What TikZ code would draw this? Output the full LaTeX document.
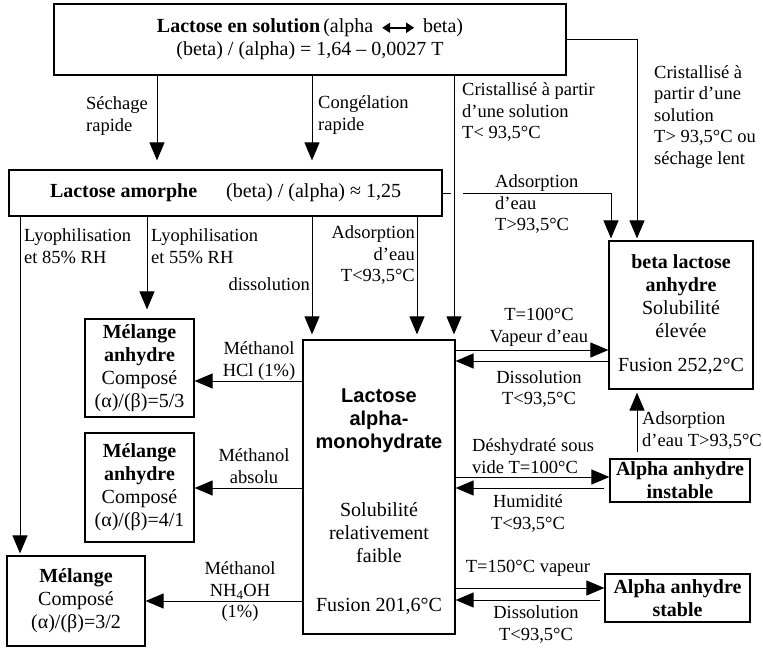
\documentclass[tikz,border=0pt]{standalone}
\usepackage{fontspec}
\setmainfont{Liberation Serif}
\newfontfamily\sansbf{Liberation Sans}
\usetikzlibrary{arrows.meta}
\newcommand\boxfont{\fontsize{20}{23}\selectfont}
\newcommand\labfont{\fontsize{18.5}{21.5}\selectfont}
\newcommand\msans[1]{{\sansbf\bfseries #1}}
\newcommand\dblarr{\tikz[baseline=-0.55ex]\draw[line width=1.8pt,{Triangle[width=10pt,length=8pt]}-{Triangle[width=10pt,length=8pt]}] (0pt,0pt) -- (32pt,0pt);}
\begin{document}
\begin{tikzpicture}[x=1pt,y=-1pt,
  box/.style={draw,line width=1.2pt,inner sep=0pt,align=center,font=\boxfont},
  txt/.style={inner sep=0pt,align=center,font=\boxfont},
  lab/.style={inner sep=0pt,font=\labfont},
  arr/.style={line width=1pt,-{Triangle[width=15pt,length=18pt]}},
  ln/.style={line width=1pt}]
\useasboundingbox (0,0) rectangle (763,649);

% boxes
\node[box,minimum width=512pt,minimum height=71pt] (T) at (310,39.5)
  {\textbf{Lactose en solution}\hspace{3pt}(alpha\hspace{8pt}\dblarr\hspace{8pt}beta)\\(beta) / (alpha) = 1,64 – 0,0027 T};
\node[box,minimum width=433pt,minimum height=46pt] (A) at (225.5,193)
  {\textbf{Lactose amorphe}\hspace{29pt}(beta) / (alpha) ≈ 1,25};
\node[box,minimum width=109pt,minimum height=98pt] (M1) at (139.5,368)
  {\textbf{Mélange}\\\textbf{anhydre}\\Composé\\(α)/(β)=5/3};
\node[box,minimum width=109pt,minimum height=109pt] (M2) at (139.5,487.5)
  {\textbf{Mélange}\\\textbf{anhydre}\\Composé\\(α)/(β)=4/1};
\node[box,minimum width=138pt,minimum height=90pt] (M3) at (76,601)
  {\textbf{Mélange}\\Composé\\(α)/(β)=3/2};
\node[box,minimum width=152pt,minimum height=294pt] (mono) at (379,487) {};
\node[txt] (monoT) at (379,501.5)
  {\msans{Lactose}\\\msans{alpha-}\\\msans{monohydrate}\\[45pt]Solubilité\\relativement\\faible\\[26pt]Fusion 201,6°C};
\node[box,minimum width=144pt,minimum height=148pt] (B) at (681,315)
  {\textbf{beta lactose}\\\textbf{anhydre}\\Solubilité\\élevée\\[11pt]Fusion 252,2°C};
\node[box,minimum width=140pt,minimum height=43pt] (AI) at (680,480.5)
  {\textbf{Alpha anhydre}\\\textbf{instable}};
\node[box,minimum width=145pt,minimum height=48pt] (AS) at (677.5,598)
  {\textbf{Alpha anhydre}\\\textbf{stable}};

% helper coordinates
\coordinate (xS) at (157,0);
\coordinate (xC) at (312,0);
\coordinate (xK) at (454,0);
\coordinate (xR) at (637,0);
\coordinate (xL1) at (20,0);
\coordinate (xL2) at (147,0);
\coordinate (xAd) at (417,0);
\coordinate (xH) at (611,0);
\coordinate (yHCl) at (0,381);
\coordinate (yAbs) at (0,488);
\coordinate (yNH) at (0,601);
\coordinate (yV) at (0,350);
\coordinate (yDi) at (0,361);
\coordinate (yDe) at (0,477);
\coordinate (yHu) at (0,488);
\coordinate (yT) at (0,588);
\coordinate (yDs) at (0,600);

% connectors
\draw[arr,shorten >=9pt] (T.south -| xS) -- (A.north -| xS);
\draw[arr,shorten >=9pt] (T.south -| xC) -- (A.north -| xC);
\draw[arr,shorten >=5pt] (T.south -| xK) -- (mono.north -| xK);
\draw[arr,shorten >=2pt] (T.east) -| (B.north -| xR);
\draw[ln] (A.east) -- ([xshift=-3pt]A.east -| xK);
\draw[arr,shorten >=2pt] ([xshift=9pt]A.east -| xK) -| (B.north -| xH);
\draw[arr,shorten >=2pt] (A.south -| xL1) -- (M3.north -| xL1);
\draw[arr,shorten >=9pt] (A.south -| xL2) -- (M1.north -| xL2);
\draw[arr,shorten >=5pt] (A.south -| xC) -- (mono.north -| xC);
\draw[arr,shorten >=5pt] (A.south -| xAd) -- (mono.north -| xAd);

\draw[arr] (mono.west |- yHCl) -- (M1.east |- yHCl);
\draw[arr] (mono.west |- yAbs) -- (M2.east |- yAbs);
\draw[arr] (mono.west |- yNH) -- (M3.east |- yNH);

\draw[arr] (mono.east |- yV) -- (B.west |- yV);
\draw[arr] (B.west |- yDi) -- (mono.east |- yDi);
\draw[arr] (mono.east |- yDe) -- (AI.west |- yDe);
\draw[arr,shorten <=5pt] (AI.west |- yHu) -- (mono.east |- yHu);
\draw[arr] (mono.east |- yT) -- (AS.west |- yT);
\draw[arr,shorten <=4pt] (AS.west |- yDs) -- (mono.east |- yDs);
\draw[arr,shorten <=6pt,shorten >=3pt] (AI.north -| xR) -- (B.south -| xR);

% labels
\node[lab,anchor=west,align=left] (lSech) at (86,116) {Séchage\\rapide};
\node[lab,anchor=west,align=left] (lCong) at (318,115) {Congélation\\rapide};
\node[lab,anchor=west,align=left] (lCris1) at (462,112) {Cristallisé à partir\\d’une solution\\T< 93,5°C};
\node[lab,anchor=west,align=left] (lCris2) at (654,117) {Cristallisé à\\partir d’une\\solution\\T> 93,5°C ou\\séchage lent};
\node[lab,anchor=west,align=left] (lAdsB) at (495,204) {Adsorption\\d’eau\\T>93,5°C};
\node[lab,anchor=west,align=left] (lLy1) at (24,246) {Lyophilisation\\et 85\% RH};
\node[lab,anchor=west,align=left] (lLy2) at (151,246) {Lyophilisation\\et 55\% RH};
\node[lab,anchor=east] (lDiss) at (310,284) {dissolution};
\node[lab,anchor=east,align=right] (lAdsM) at (415,255) {Adsorption\\d’eau\\T<93,5°C};
\node[lab,align=center] (lHCl) at (259,361) {Méthanol\\HCl (1\%)};
\node[lab,align=center] (lAbs) at (254,466) {Méthanol\\absolu};
\node[lab,align=center] (lNH) at (240,592) {Méthanol\\NH\textsubscript{4}OH\\(1\%)};
\node[lab,align=center] (lVap) at (539,327.5) {T=100°C\\Vapeur d’eau};
\node[lab,align=center] (lDisB) at (539,389) {Dissolution\\T<93,5°C};
\node[lab,anchor=west,align=left] (lDes) at (472,456) {Déshydraté sous\\vide T=100°C};
\node[lab,align=center] (lHum) at (528,513.5) {Humidité\\T<93,5°C};
\node[lab,anchor=west,align=left] (lAdsI) at (642,430.5) {Adsorption\\d’eau T>93,5°C};
\node[lab] (l150) at (528,568) {T=150°C vapeur};
\node[lab,align=center] (lDisS) at (536,624.5) {Dissolution\\T<93,5°C};
\end{tikzpicture}
\end{document}
